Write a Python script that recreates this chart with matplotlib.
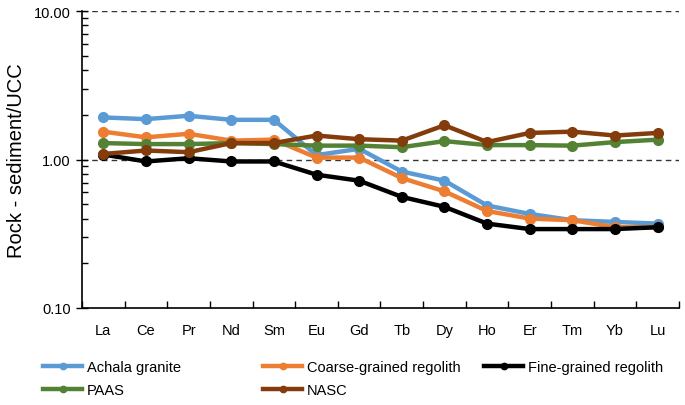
"""
REE pattern of rock / sediment normalised to UCC, redrawn from the figure
"""

from matplotlib import pyplot as plt
from matplotlib.ticker import FixedLocator, FormatStrFormatter, LogLocator, NullFormatter
import numpy as np

plt.rcParams['font.family'] = ['Liberation Sans', 'DejaVu Sans']

# Data
elements = ["La", "Ce", "Pr", "Nd", "Sm", "Eu", "Gd", "Tb", "Dy", "Ho", "Er", "Tm", "Yb", "Lu"]
achala = [1.92, 1.87, 1.97, 1.85, 1.85, 1.07, 1.18, 0.83, 0.72, 0.49, 0.43, 0.39, 0.38, 0.37]
coarse = [1.54, 1.41, 1.49, 1.34, 1.36, 1.03, 1.03, 0.75, 0.61, 0.45, 0.40, 0.39, 0.35, 0.35]
fine = [1.08, 0.97, 1.02, 0.97, 0.97, 0.79, 0.72, 0.56, 0.48, 0.37, 0.34, 0.34, 0.34, 0.35]
paas = [1.29, 1.27, 1.27, 1.29, 1.27, 1.24, 1.24, 1.21, 1.33, 1.25, 1.25, 1.24, 1.31, 1.36]
nasc = [1.09, 1.15, 1.12, 1.29, 1.29, 1.45, 1.37, 1.34, 1.70, 1.31, 1.51, 1.54, 1.45, 1.51]

series = [
    ("Achala granite", achala, "#5B9BD5"),
    ("Coarse-grained regolith", coarse, "#ED7D31"),
    ("Fine-grained regolith", fine, "#000000"),
    ("PAAS", paas, "#548235"),
    ("NASC", nasc, "#843C0C"),
]

W, H = 685, 406
fig = plt.figure(figsize=(W / 100, H / 100), dpi=100)
ax = fig.add_axes([82 / W, 1 - 309 / H, (679 - 82) / W, (309 - 12) / H])

x = np.arange(len(elements))
lines = {}
for name, vals, col in series:
    ln, = ax.plot(x, vals, color=col, lw=3.2, marker="o", ms=7, label=name, zorder=3)
    lines[name] = ln

ax.set_yscale("log")
ax.set_ylim(0.1, 10)
ax.set_xlim(-0.5, len(elements) - 0.5)

# dashed gridlines at the decades
for yv in [1, 10]:
    ax.axhline(yv, color="#333333", lw=1, ls=(0, (4, 3)), zorder=1)

ax.yaxis.set_major_locator(FixedLocator([0.1, 1, 10]))
ax.yaxis.set_major_formatter(FormatStrFormatter("%.2f"))
ax.yaxis.set_minor_locator(LogLocator(base=10, subs=np.arange(2, 10)))
ax.yaxis.set_minor_formatter(NullFormatter())
ax.tick_params(axis="y", which="major", direction="inout", length=8, width=1, labelsize=10.5, pad=4)
ax.tick_params(axis="y", which="minor", direction="in", length=4, width=1)

ax.set_xticks(x)
ax.set_xticklabels(elements)
ax.set_xticks(np.arange(len(elements) + 1) - 0.5, minor=True)
ax.tick_params(axis="x", which="major", length=0, labelsize=10.5, pad=11)
ax.tick_params(axis="x", which="minor", direction="in", length=5, width=1)

for s in ["top", "right"]:
    ax.spines[s].set_visible(False)
for s in ["left", "bottom"]:
    ax.spines[s].set_linewidth(1.2)

ax.set_ylabel("Rock - sediment/UCC", fontsize=14.5, labelpad=6)

# legend in three columns, placed by hand
cols = [
    (43, ["Achala granite", "PAAS"]),
    (263, ["Coarse-grained regolith", "NASC"]),
    (484, ["Fine-grained regolith"]),
]
for xpos, names in cols:
    leg = fig.legend([lines[n] for n in names], names, loc="upper left",
                     bbox_to_anchor=(xpos / W, 1 - 361 / H), frameon=False,
                     fontsize=10.5, borderpad=0, borderaxespad=0, handlelength=2.7,
                     handletextpad=0.3, labelspacing=0.6, markerscale=0.65)

fig.savefig("out.png", dpi=100)
